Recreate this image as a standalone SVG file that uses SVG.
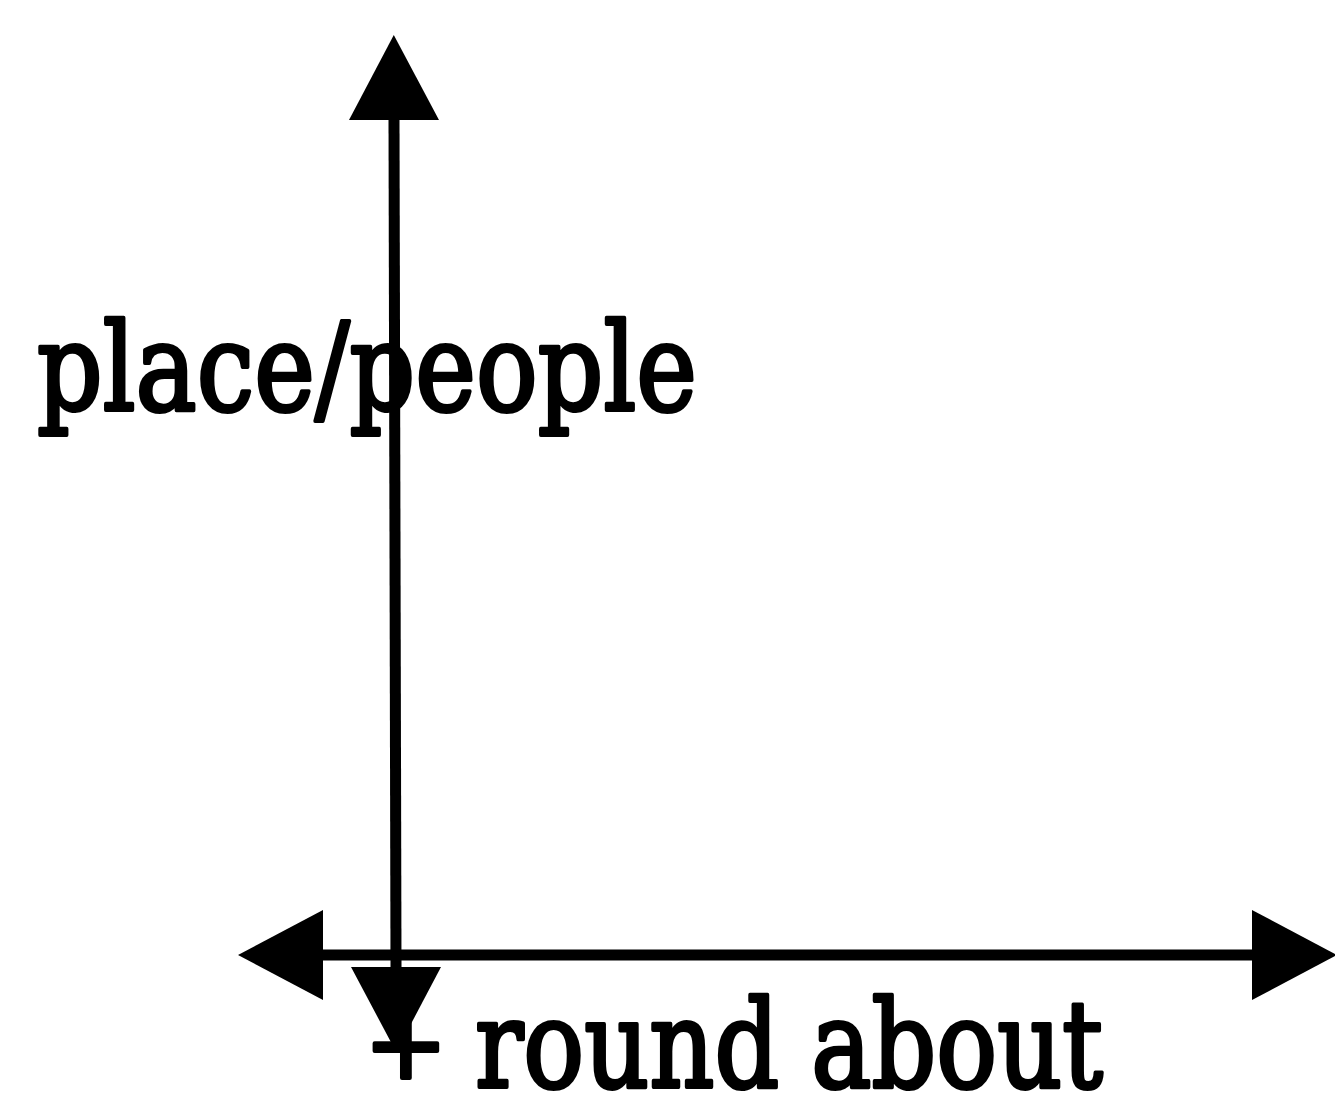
<svg xmlns="http://www.w3.org/2000/svg" width="1335" height="1094" viewBox="0 0 1335 1094">
  <style>
    .axis { stroke: #000; stroke-width: 11; fill: none; }
    .lbl { font-family: "DejaVu Serif", "Liberation Serif", serif; font-size: 122px; fill: #000; stroke: #000; stroke-width: 4; stroke-linejoin: round; }
  </style>
  <defs>
    <marker id="head" markerUnits="userSpaceOnUse" markerWidth="100" markerHeight="100" viewBox="0 -50 100 100" refX="0" refY="0" orient="auto-start-reverse" overflow="visible">
      <path d="M0,-45 L85,0 L0,45 Z" fill="#000"/>
    </marker>
  </defs>
  <rect width="1335" height="1094" fill="#fff"/>
  <g id="connectors">
    <line class="axis" x1="396" y1="967" x2="394" y2="120" marker-start="url(#head)" marker-end="url(#head)"/>
    <line class="axis" x1="323" y1="955" x2="1252" y2="955" stroke-width="10" marker-start="url(#head)" marker-end="url(#head)"/>
  </g>
  <g id="label-vertical">
    <text class="lbl" x="37" y="410" textLength="660" lengthAdjust="spacingAndGlyphs">place/people</text>
  </g>
  <g id="label-horizontal">
    <text class="lbl" y="1087"><tspan x="364" y="1078" font-size="100">+</tspan> <tspan x="475" y="1087" textLength="628" lengthAdjust="spacingAndGlyphs">round about</tspan></text>
  </g>
</svg>
